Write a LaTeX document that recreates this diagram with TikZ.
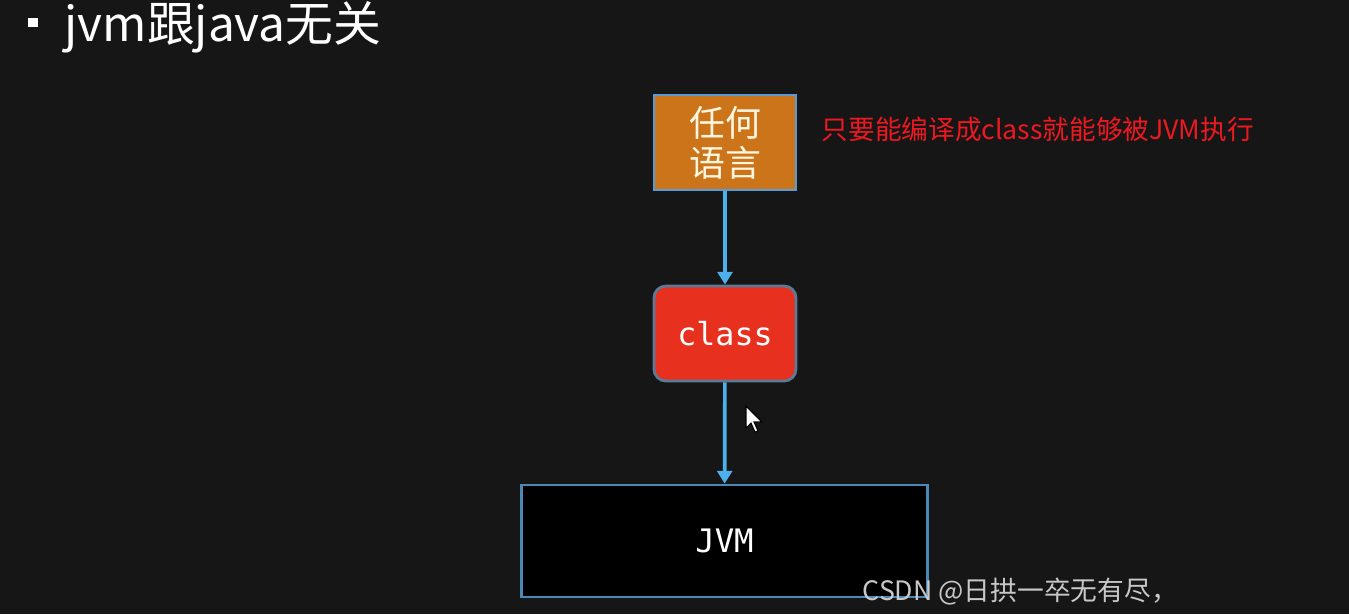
\documentclass[tikz,border=0pt]{standalone}
\usepackage{fontspec}
\usetikzlibrary{arrows.meta}
\newfontfamily\cjk{Noto Sans CJK SC}
\newfontfamily\monof{DejaVu Sans Mono}
\definecolor{bgc}{HTML}{161616}
\definecolor{orangec}{HTML}{CB741A}
\definecolor{edgeblue}{HTML}{5B9BD5}
\definecolor{redbox}{HTML}{E8301E}
\definecolor{rededge}{HTML}{5A7A96}
\definecolor{jvmedge}{HTML}{4A88B8}
\definecolor{arrowc}{HTML}{4DB0EA}
\definecolor{redtext}{HTML}{EE1820}
\definecolor{cream}{HTML}{FFF6E0}
\definecolor{wm}{HTML}{C8C8C8}
\tikzset{
  langbox/.style={draw=edgeblue, line width=0.8pt, fill=orangec, text=cream,
    minimum width=1.42cm, minimum height=0.95cm, inner sep=0pt, align=center,
    font=\cjk\fontsize{10.2}{11.4}\selectfont},
  classbox/.style={draw=rededge, line width=0.8pt, fill=redbox, text=white,
    rounded corners=0.12cm, minimum width=1.42cm, minimum height=0.95cm, inner sep=0pt,
    font=\monof\fontsize{9}{10}\selectfont},
  jvmbox/.style={draw=jvmedge, line width=0.8pt, fill=black, text=white,
    minimum width=4.05cm, minimum height=1.12cm, inner sep=0pt,
    font=\monof\fontsize{9.2}{10}\selectfont},
  conn/.style={draw=arrowc, line width=1.05pt, -{Triangle[length=3.6pt,width=4.2pt]}},
  titletext/.style={text=white, inner sep=0pt, font=\cjk\fontsize{13.6}{15}\selectfont},
  notetext/.style={text=redtext, inner sep=0pt, font=\cjk\fontsize{7.58}{9}\selectfont},
  wmtext/.style={text=wm, inner sep=0pt, font=\cjk\fontsize{7.6}{9}\selectfont},
  bulletsq/.style={fill=white, inner sep=0pt, minimum size=0.09cm}
}
\begin{document}
\begin{tikzpicture}[x=0.01cm,y=-0.01cm]
\fill[bgc] (0,0) rectangle (1349,614);
\useasboundingbox (0,0) rectangle (1349,614);
% title
\node[bulletsq] (bul) at (33,22) {};
\node[titletext, anchor=base west] (title) at (64,41) {jvm跟java无关};
% boxes
\node[langbox] (lang) at (725,142.5) {任何\\语言};
\node[classbox] (cls) at (725,333.5) {class};
\node[jvmbox] (jvm) at (724.5,541) {JVM};
\draw[conn] (lang) -- (cls);
\draw[conn] (cls) -- (jvm);
% note
\node[notetext, anchor=west] (note) at (821,129) {只要能编译成class就能够被JVM执行};
% cursor
\fill[white, draw=black, line width=0.3pt] (746,406) -- (746,428) -- (751,423) -- (755,432) -- (758,431) -- (754,422) -- (762,422) -- cycle;
% watermark
\node[wmtext, anchor=base west] (wmark) at (862,600) {CSDN @日拱一卒无有尽，};
\end{tikzpicture}
\end{document}
